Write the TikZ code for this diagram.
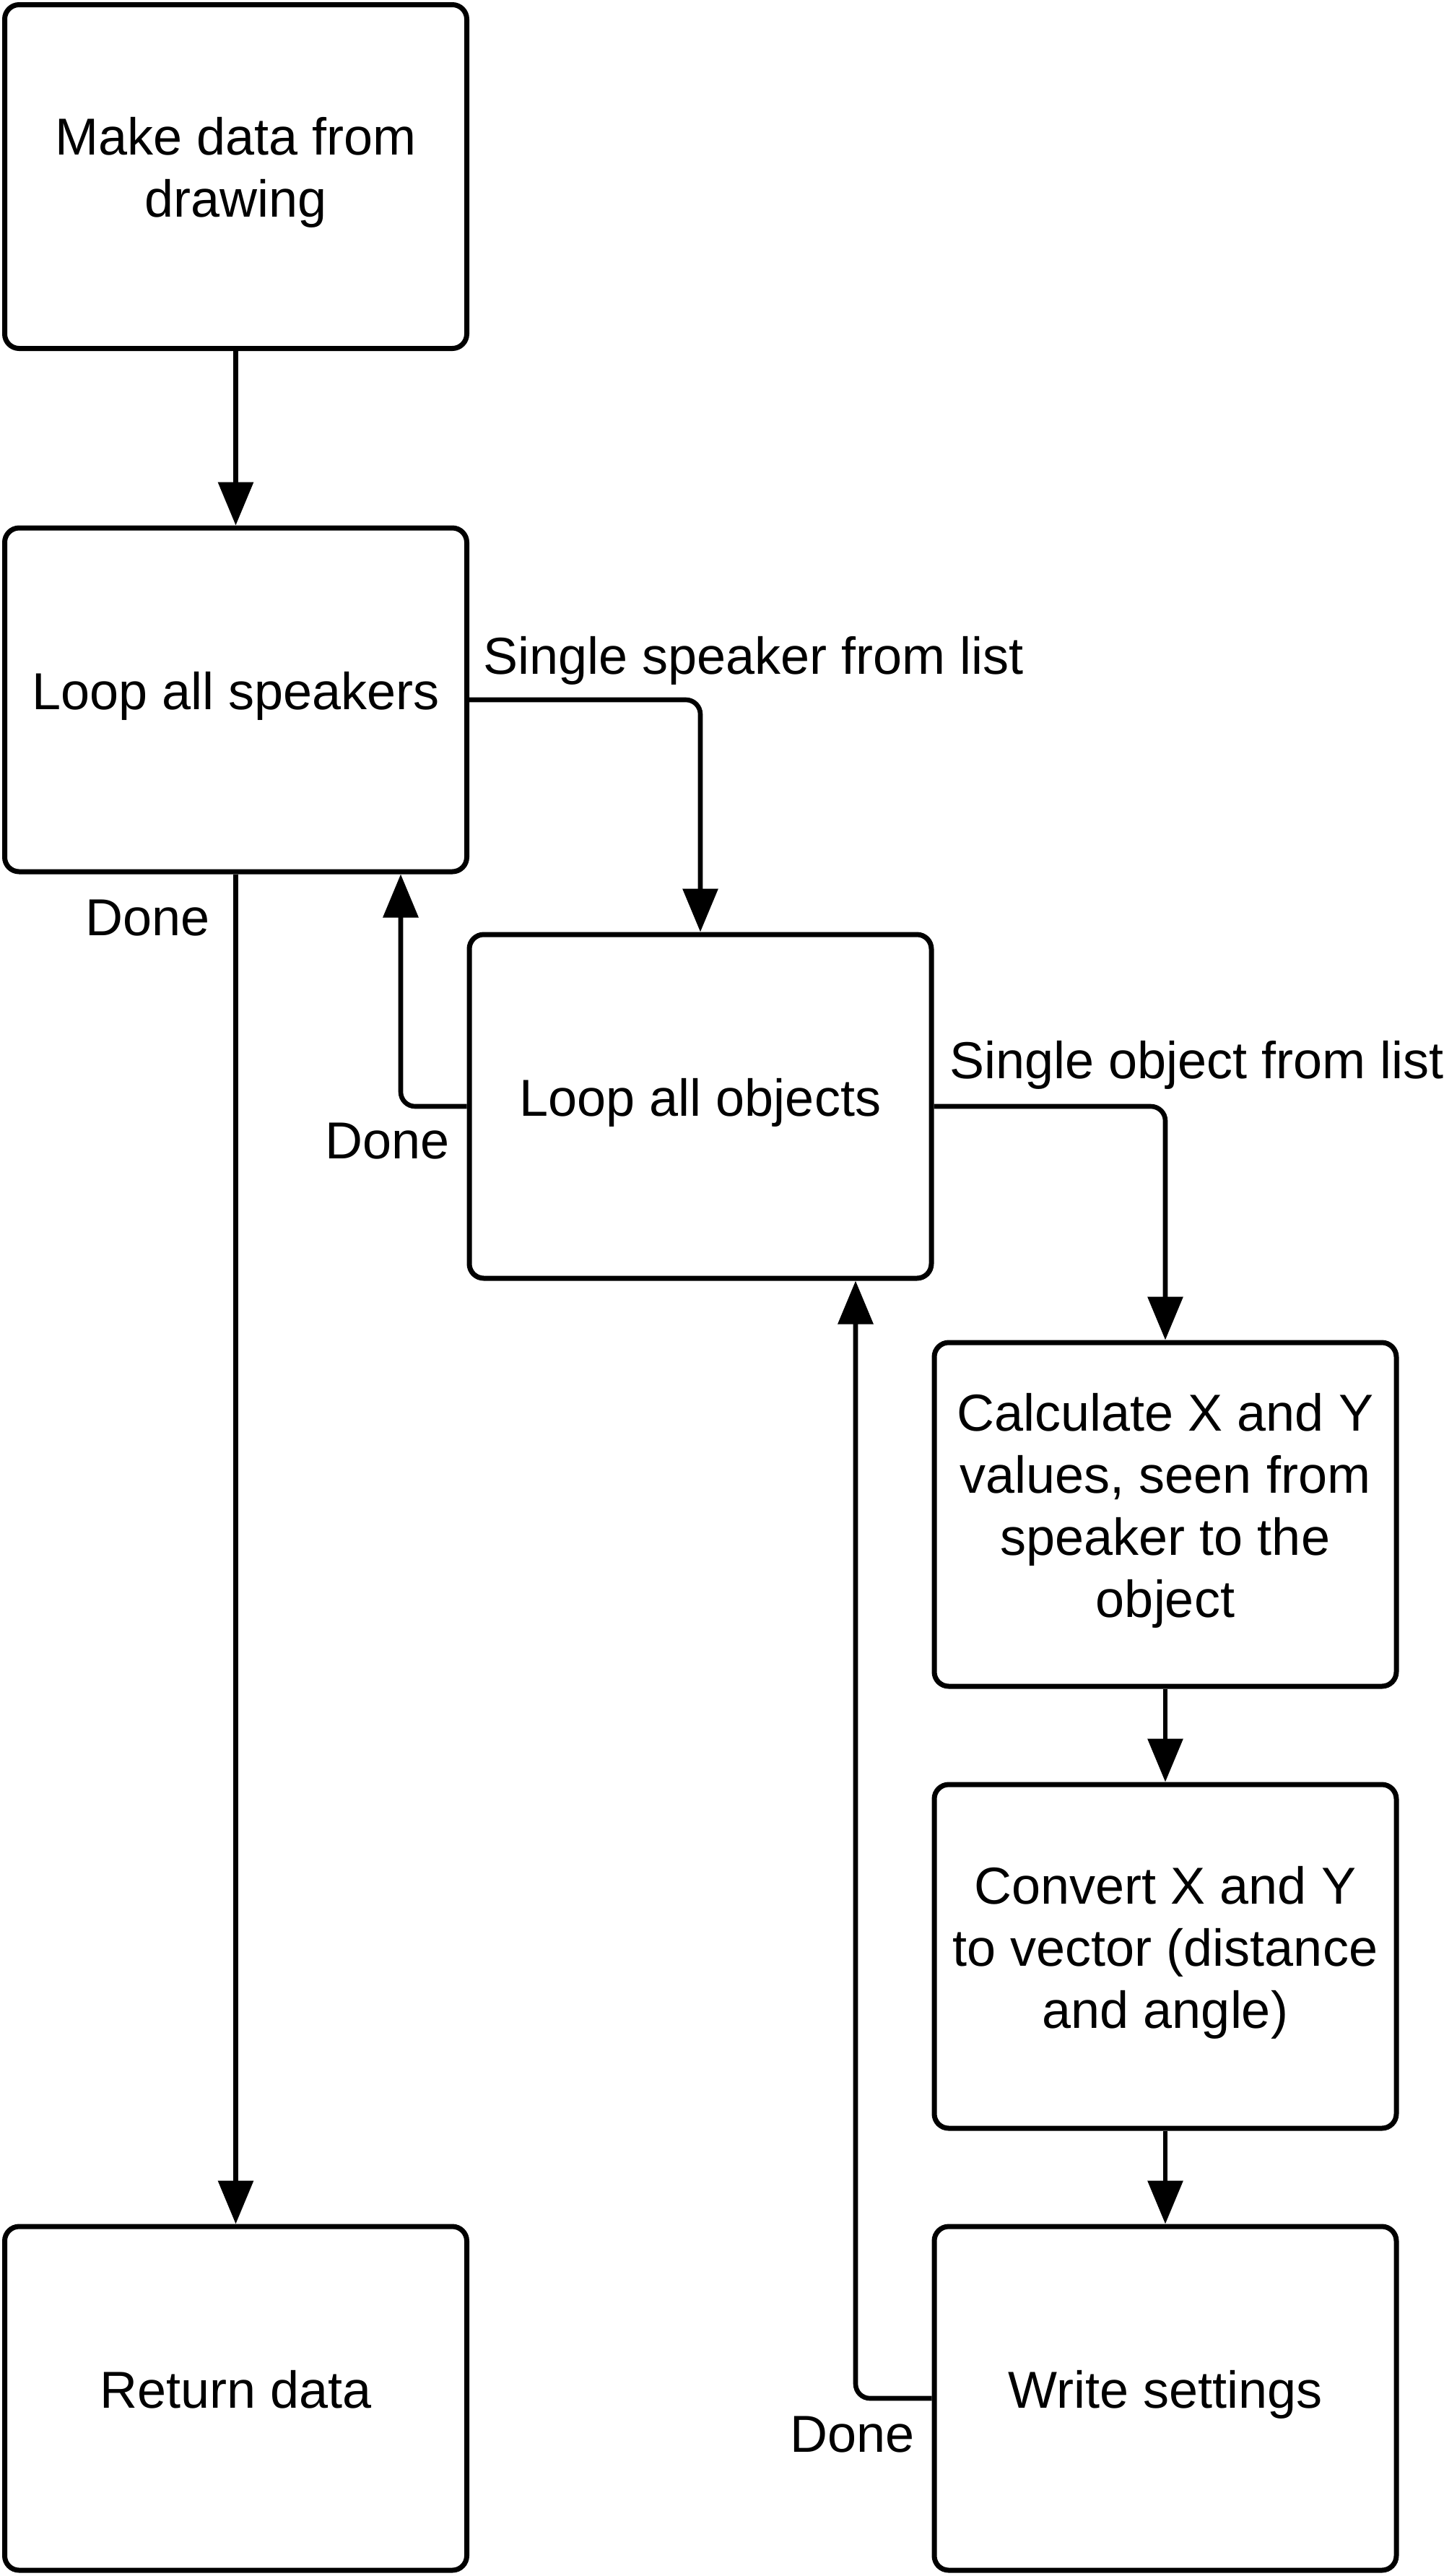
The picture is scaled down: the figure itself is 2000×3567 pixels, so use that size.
\documentclass[tikz,border=0pt]{standalone}
\usepackage{fontspec}
\setmainfont{Liberation Sans}
\usetikzlibrary{arrows.meta,calc}
\newcommand{\bxdepth}{\rule[-13pt]{0pt}{0pt}}
\begin{document}
\begin{tikzpicture}[x=0.5pt,y=-0.5pt,
  box/.style={draw=black,line width=3.5pt,rounded corners=10pt,fill=white,
    minimum width=320pt,minimum height=238pt,align=center,inner sep=0pt,
    font=\fontsize{36pt}{43pt}\selectfont},
  conn/.style={draw=black,line width=3.3pt,-{Triangle[length=30pt,width=24pt]}},
  lbl/.style={inner sep=0pt,font=\fontsize{36pt}{43pt}\selectfont}]
\useasboundingbox (0,0) rectangle (2000,3567);
\node[box] (b1) at (326.5,244.5) {Make data from\\drawing\bxdepth};
\node[box] (b2) at (326.5,969) {Loop all speakers\bxdepth};
\node[box] (b3) at (970,1532) {Loop all objects\bxdepth};
\node[box] (b4) at (1614,2097) {Calculate X and Y\\values, seen from\\speaker to the\\object\bxdepth};
\node[box] (b5) at (1614,2709) {Convert X and Y\\to vector (distance\\and angle)\bxdepth};
\node[box] (b6) at (1614,3321) {Write settings\bxdepth};
\node[box] (b7) at (326.5,3321) {Return data\bxdepth};
\coordinate (c1) at (555,0);
\coordinate (c2) at (1185,0);
\draw[conn] (b1) -- (b2);
\draw[conn,rounded corners=10pt] (b2.east) -| (b3.north);
\draw[conn,rounded corners=10pt] (b3.west) -| (c1 |- b2.south);
\draw[conn] (b2) -- (b7);
\draw[conn,rounded corners=10pt] (b3.east) -| (b4.north);
\draw[conn] (b4) -- (b5);
\draw[conn] (b5) -- (b6);
\draw[conn,rounded corners=10pt] (b6.west) -| (c2 |- b3.south);
\node[lbl,anchor=base west] (l1) at (669,933) {Single speaker from list};
\node[lbl,anchor=base west] (l2) at (1315,1493) {Single object from list};
\node[lbl,anchor=base east] (d1) at (291,1295) {Done};
\node[lbl,anchor=base east] (d2) at (623,1604) {Done};
\node[lbl,anchor=base east] (d3) at (1267,3395) {Done};
\end{tikzpicture}
\end{document}
